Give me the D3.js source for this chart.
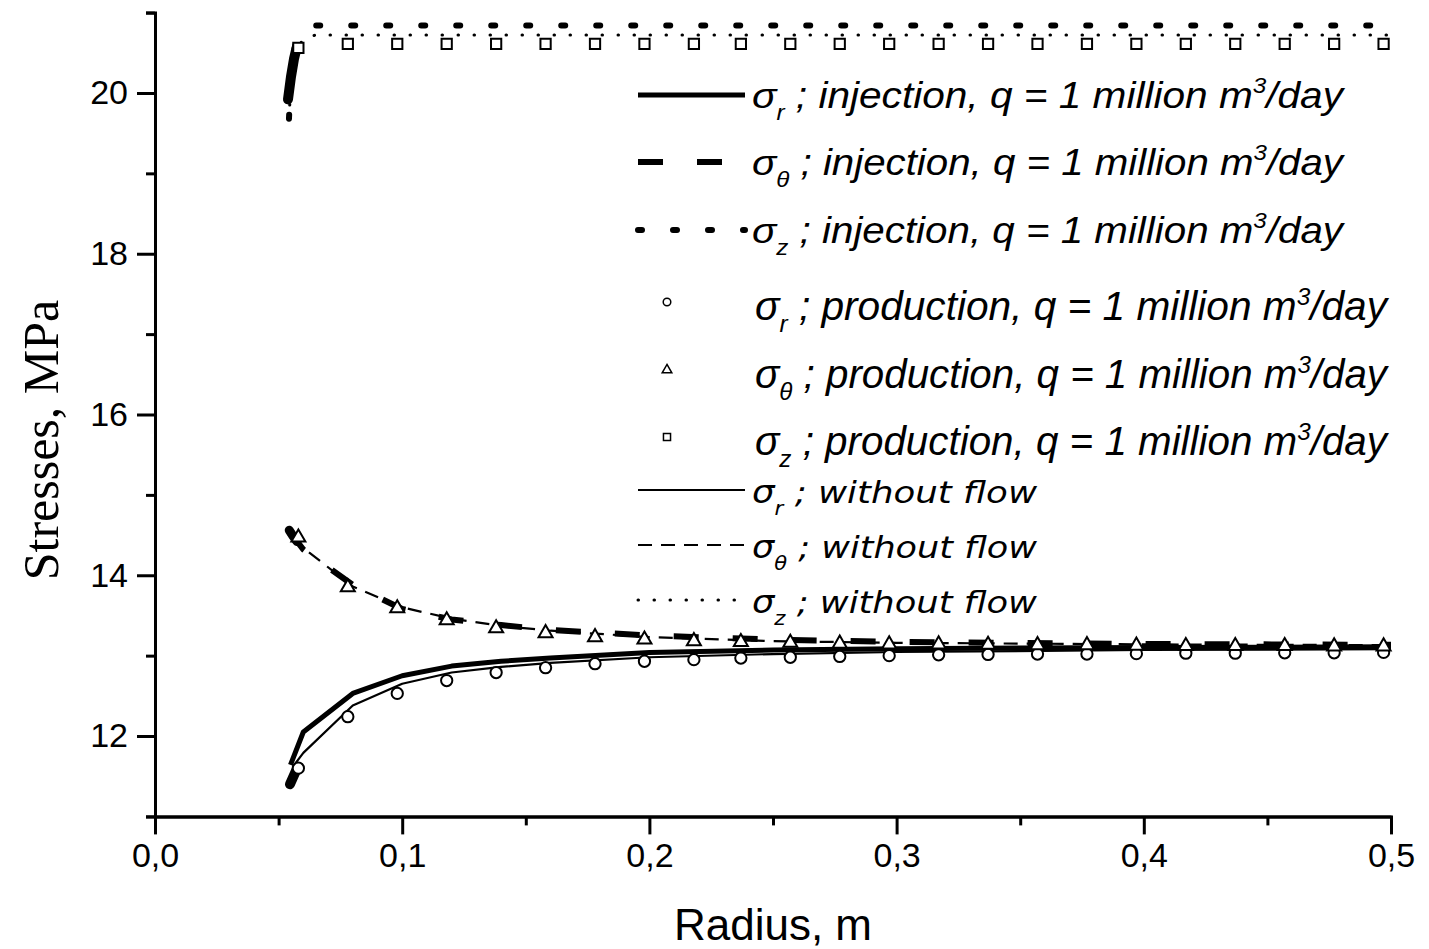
<!DOCTYPE html>
<meta charset="utf-8">
<style>
body { margin: 0; background: #fff; }
.axis path, .axis line { stroke: #000; stroke-width: 3px; fill: none; }
.axis text { font-family: "Liberation Sans", Arial, sans-serif; font-size: 34px; fill: #000; }
.legend text { font-family: "Liberation Sans", Arial, sans-serif; font-style: italic; fill: #000; }
</style>
<body>
<script src="https://cdn.jsdelivr.net/npm/d3@7"></script>
<svg id="chart" width="1429" height="949"></svg>
<script>

// injection, q = 1 million m3/day (lines)
var injR_r  = [0.0548, 0.06, 0.08, 0.1, 0.12, 0.14, 0.16, 0.2, 0.25, 0.3, 0.35, 0.4, 0.45, 0.5];
var injR_v  = [11.64, 12.05, 12.53, 12.75, 12.87, 12.93, 12.97, 13.04, 13.07, 13.085, 13.095, 13.10, 13.105, 13.11];
var injT_r  = [0.0543, 0.0575, 0.06, 0.08, 0.1, 0.12, 0.14, 0.16, 0.2, 0.25, 0.3, 0.4, 0.5];
var injT_v  = [14.56, 14.42, 14.32, 13.88, 13.58, 13.45, 13.38, 13.32, 13.25, 13.20, 13.17, 13.145, 13.135];
var injZ_r  = [0.0542, 0.0548, 0.0556, 0.057, 0.06, 0.065, 0.1, 0.2, 0.3, 0.4, 0.5];
var injZ_v  = [19.68, 20.10, 20.40, 20.65, 20.78, 20.84, 20.84, 20.84, 20.84, 20.84, 20.84];

// without flow (lines)
var noR_r = [0.0558, 0.06, 0.08, 0.1, 0.12, 0.14, 0.16, 0.2, 0.25, 0.3, 0.4, 0.5];
var noR_v = [11.62, 11.79, 12.38, 12.65, 12.79, 12.86, 12.91, 12.98, 13.02, 13.045, 13.07, 13.08];
var noT_r = [0.0555, 0.06, 0.08, 0.1, 0.12, 0.14, 0.16, 0.2, 0.25, 0.3, 0.4, 0.5];
var noT_v = [14.48, 14.34, 13.86, 13.60, 13.46, 13.37, 13.31, 13.23, 13.18, 13.16, 13.14, 13.13];
var noZ_r = [0.0545, 0.0555, 0.057, 0.06, 0.065, 0.1, 0.2, 0.3, 0.4, 0.5];
var noZ_v = [19.85, 20.20, 20.50, 20.68, 20.72, 20.72, 20.72, 20.72, 20.72, 20.72];

// production, q = 1 million m3/day (symbols)
var prodR = [0.058, 0.078, 0.098, 0.118, 0.138, 0.158, 0.178, 0.198, 0.218, 0.237, 0.257, 0.277,
             0.297, 0.317, 0.337, 0.357, 0.377, 0.397, 0.417, 0.437, 0.457, 0.477, 0.497];
var prodSr = [11.60, 12.24, 12.53, 12.69, 12.79, 12.85, 12.90, 12.93, 12.95, 12.97, 12.98, 12.99,
              13.00, 13.01, 13.015, 13.02, 13.02, 13.025, 13.03, 13.03, 13.035, 13.035, 13.04];
var prodSt = [14.47, 13.85, 13.59, 13.44, 13.34, 13.28, 13.23, 13.20, 13.18, 13.17, 13.16, 13.15,
              13.14, 13.14, 13.135, 13.13, 13.13, 13.125, 13.12, 13.12, 13.12, 13.115, 13.115];
var prodSz = [20.56, 20.61, 20.61, 20.61, 20.61, 20.61, 20.61, 20.61, 20.61, 20.61, 20.61, 20.61,
              20.61, 20.61, 20.61, 20.61, 20.61, 20.61, 20.61, 20.61, 20.61, 20.61, 20.61];
// dense symbols right at the well wall (they merge into a black smear)
var wallR_r = [0.0546, 0.0572];
var wallR_v = [11.40, 11.58];
var wallT_r = [0.0543, 0.0560, 0.0574];
var wallT_v = [14.56, 14.48, 14.42];
var wallZ_r = [0.0538, 0.0550, 0.0562, 0.0572];
var wallZ_v = [19.92, 20.20, 20.42, 20.55];

var xTicks = [0, 0.1, 0.2, 0.3, 0.4, 0.5];
var yTicks = [12, 14, 16, 18, 20];

var svg = d3.select("#chart");

var x = d3.scaleLinear().domain([0, 0.5]).range([155, 1391]);
var y = d3.scaleLinear().domain([11, 21]).range([816.4, 12.6]);

function pts(rs, vs) { return rs.map(function(r, i) { return [r, vs[i]]; }); }

var line = d3.line()
    .x(function(d) { return x(d[0]); })
    .y(function(d) { return y(d[1]); });

var styles = {
  injR: {w: 5,   dash: null,    cap: "butt"},
  injT: {w: 6,   dash: "25,34", cap: "butt"},
  injZ: {w: 6,   dash: "4,31",  cap: "round"},
  noR:  {w: 2.2, dash: null,    cap: "butt"},
  noT:  {w: 2.2, dash: "14,9",  cap: "butt"},
  noZ:  {w: 3,   dash: "0.5,15.5", cap: "round"}
};

function drawLine(data, st) {
  svg.append("path")
      .attr("d", line(data))
      .attr("fill", "none")
      .attr("stroke", "#000")
      .attr("stroke-width", st.w)
      .attr("stroke-linejoin", "round")
      .attr("stroke-linecap", st.cap)
      .attr("stroke-dasharray", st.dash);
}

drawLine(pts(injR_r, injR_v), styles.injR);
drawLine(pts(injT_r, injT_v), styles.injT);
drawLine(pts(injZ_r, injZ_v), styles.injZ);
drawLine(pts(noR_r, noR_v), styles.noR);
drawLine(pts(noT_r, noT_v), styles.noT);
drawLine(pts(noZ_r, noZ_v), styles.noZ);

// smear of the dense wall symbols
[[wallR_r, wallR_v, 10], [wallT_r, wallT_v, 9], [wallZ_r, wallZ_v, 10]].forEach(function(w) {
  svg.append("path")
      .attr("d", line(pts(w[0], w[1])))
      .attr("fill", "none")
      .attr("stroke", "#000")
      .attr("stroke-width", w[2])
      .attr("stroke-linecap", "round")
      .attr("stroke-linejoin", "round");
});

var symCircle = d3.symbol().type(d3.symbolCircle).size(100);
var symTri = d3.symbol().type(d3.symbolTriangle).size(85);
var symSq = d3.symbol().type(d3.symbolSquare).size(105);

function drawMarks(vals, sym) {
  svg.append("g").selectAll("path")
      .data(pts(prodR, vals))
      .enter().append("path")
      .attr("transform", function(d) { return "translate(" + x(d[0]) + "," + y(d[1]) + ")"; })
      .attr("d", sym)
      .attr("fill", "#fff")
      .attr("stroke", "#000")
      .attr("stroke-width", 2);
}
drawMarks(prodSr, symCircle);
drawMarks(prodSt, symTri);
drawMarks(prodSz, symSq);

// axes
var fmt = function(d) { return d3.format(".1f")(d).replace(".", ","); };

svg.append("g").attr("class", "axis")
    .attr("transform", "translate(0,816.4)")
    .call(d3.axisBottom(x).tickValues(d3.range(0.05, 0.5, 0.1)).tickSize(9).tickFormat(""));
svg.append("g").attr("class", "axis")
    .attr("transform", "translate(0,816.4)")
    .call(d3.axisBottom(x).tickValues(xTicks).tickSize(18).tickSizeOuter(0).tickPadding(8).tickFormat(fmt));

svg.append("g").attr("class", "axis")
    .attr("transform", "translate(155,0)")
    .call(d3.axisLeft(y).tickValues([11, 13, 15, 17, 19, 21]).tickSize(9).tickFormat(""));
svg.append("g").attr("class", "axis")
    .attr("transform", "translate(155,0)")
    .call(d3.axisLeft(y).tickValues(yTicks).tickSize(18).tickSizeOuter(0).tickPadding(9));

svg.append("text")
    .attr("x", 773).attr("y", 940)
    .attr("text-anchor", "middle")
    .style("font-family", "Liberation Sans, Arial, sans-serif")
    .style("font-size", "44px")
    .text("Radius, m");

svg.append("text")
    .attr("transform", "translate(58,440) rotate(-90)")
    .attr("text-anchor", "middle")
    .style("font-family", "Liberation Serif, Times New Roman, serif")
    .style("font-size", "50px")
    .text("Stresses, MPa");

// legend
var legSubs = ["r", "\u03b8", "z", "r", "\u03b8", "z", "r", "\u03b8", "z"];
var legLabels = ["injection, q = 1 million m", "injection, q = 1 million m", "injection, q = 1 million m",
                 "production, q = 1 million m", "production, q = 1 million m", "production, q = 1 million m",
                 "without flow", "without flow", "without flow"];
var legKeys = ["injR", "injT", "injZ", "prodR", "prodT", "prodZ", "noR", "noT", "noZ"];
var legY = [95, 162, 230, 302, 370, 437, 490, 545, 600];
var legW = [591, 591, 591, 632, 632, 632, 285, 285, 285];

var legend = svg.append("g").attr("class", "legend");
var legSyms = {prodR: d3.symbol().type(d3.symbolCircle).size(45),
               prodT: d3.symbol().type(d3.symbolTriangle).size(40),
               prodZ: d3.symbol().type(d3.symbolSquare).size(50)};

legKeys.forEach(function(k, i) {
  var cy = legY[i];
  if (styles[k]) {
    legend.append("line")
        .attr("x1", 638).attr("x2", 745).attr("y1", cy).attr("y2", cy)
        .attr("stroke", "#000")
        .attr("stroke-width", styles[k].w)
        .attr("stroke-linecap", styles[k].cap)
        .attr("stroke-dasharray", styles[k].dash);
  } else {
    legend.append("path")
        .attr("transform", "translate(667," + cy + ")")
        .attr("d", legSyms[k])
        .attr("fill", "#fff").attr("stroke", "#000").attr("stroke-width", 1.5);
  }
  var flow = i >= 6;
  var prod = i >= 3 && i < 6;
  var fs = prod ? 40 : (flow ? 31 : 36);
  var t = legend.append("text")
      .attr("x", prod ? 755 : 752)
      .attr("y", cy + (prod ? 18 : 13))
      .attr("textLength", legW[i])
      .attr("lengthAdjust", "spacingAndGlyphs")
      .style("font-size", fs + "px")
      .style("font-family", flow ? "DejaVu Sans, sans-serif" : null);
  t.append("tspan").text("\u03c3");
  t.append("tspan").attr("dy", 12).style("font-size", (fs * 0.6) + "px").text(legSubs[i]);
  t.append("tspan").attr("dy", -12).text(" ; " + legLabels[i]);
  if (!flow) {
    t.append("tspan").attr("dy", -15).style("font-size", (fs * 0.6) + "px").text("3");
    t.append("tspan").attr("dy", 15).text("/day");
  }
});

</script>
</body>
